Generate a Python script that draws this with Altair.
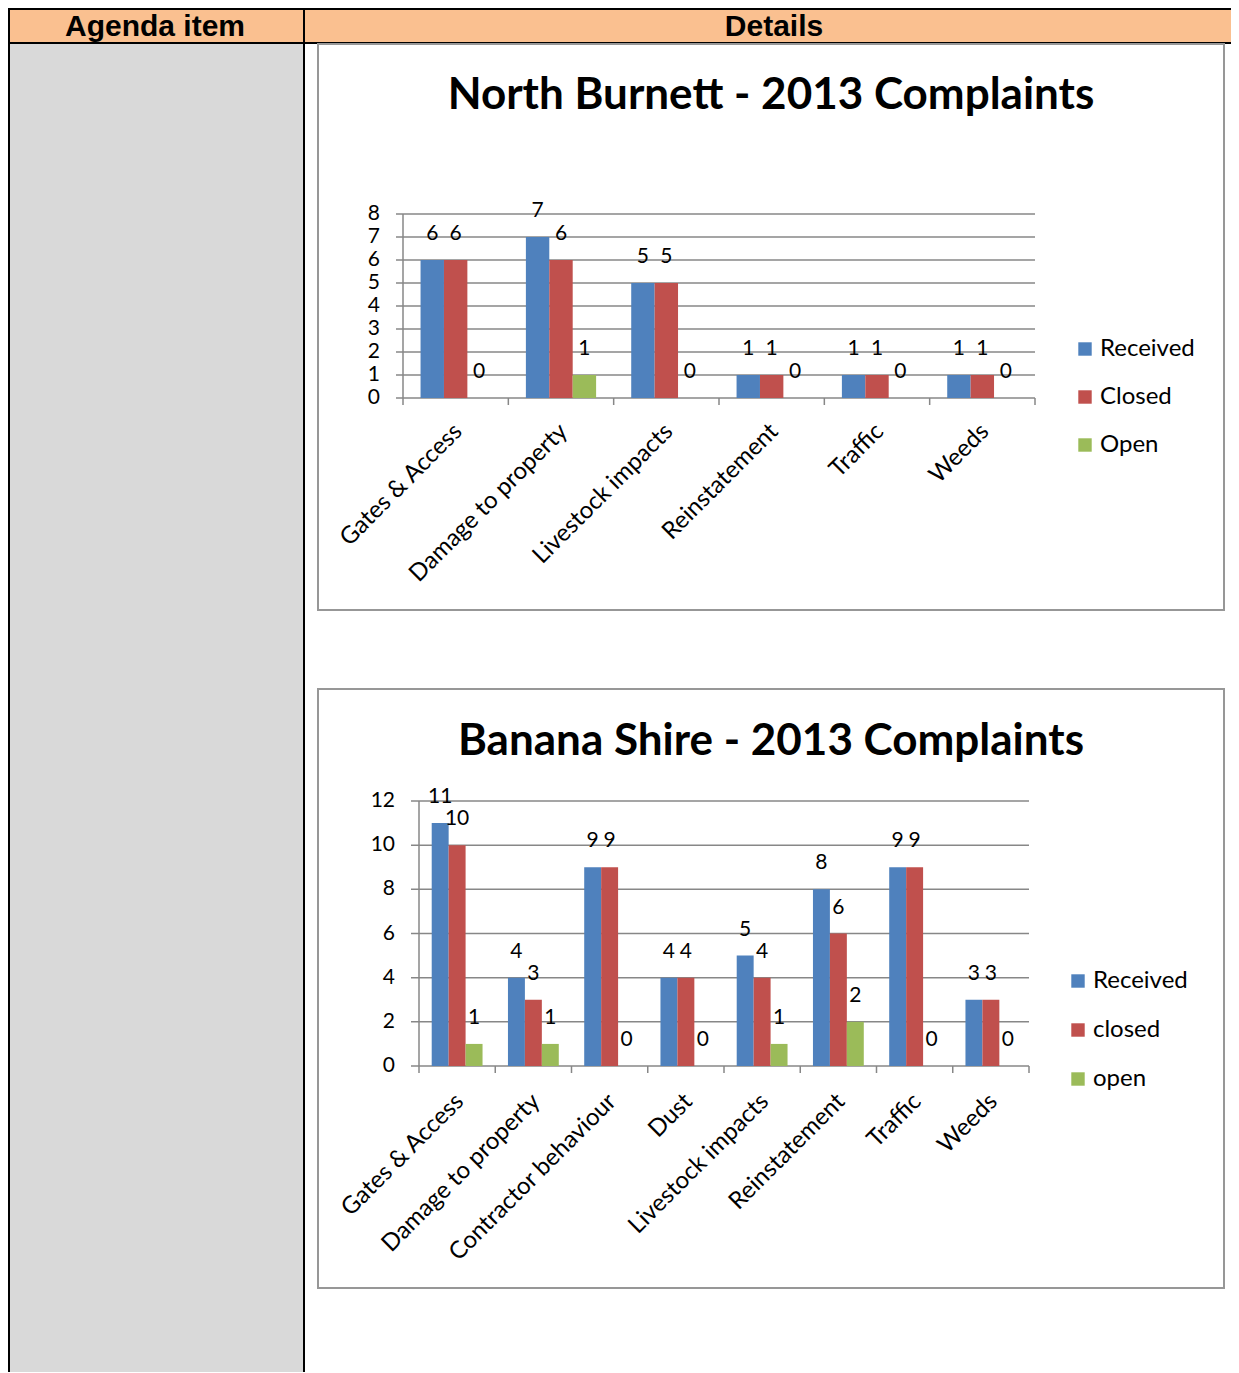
import altair as alt
import pandas as pd

# ---------------- data ----------------
HEADER_LEFT = "Agenda item"
HEADER_RIGHT = "Details"

NB_TITLE = "North Burnett - 2013 Complaints"
NB_CATS = ["Gates & Access", "Damage to property", "Livestock impacts",
           "Reinstatement", "Traffic", "Weeds"]
NB_SERIES = ["Received", "Closed", "Open"]
NB_RECEIVED = [6, 7, 5, 1, 1, 1]
NB_CLOSED = [6, 6, 5, 1, 1, 1]
NB_OPEN = [0, 1, 0, 0, 0, 0]
NB_TICKS = [0, 1, 2, 3, 4, 5, 6, 7, 8]

BS_TITLE = "Banana Shire - 2013 Complaints"
BS_CATS = ["Gates & Access", "Damage to property", "Contractor behaviour", "Dust",
           "Livestock impacts", "Reinstatement", "Traffic", "Weeds"]
BS_SERIES = ["Received", "closed", "open"]
BS_RECEIVED = [11, 4, 9, 4, 5, 8, 9, 3]
BS_CLOSED = [10, 3, 9, 4, 4, 6, 9, 3]
BS_OPEN = [1, 1, 0, 0, 1, 2, 0, 0]
BS_TICKS = [0, 2, 4, 6, 8, 10, 12]

COLORS = ["#4F81BD", "#C0504D", "#9BBB59"]
GRID = "#878787"
BOX = "#979797"
FONT = "Lato"
M = 8  # page margin


def px(v):
    return v - M


ONE = alt.Data(values=[{}])


def long_df(cats, series, vals):
    rows = []
    for s, arr in zip(series, vals):
        for c, v in zip(cats, arr):
            rows.append({"cat": c, "series": s, "value": v})
    return pd.DataFrame(rows)


def rect(x, x2, y, y2, fill, stroke=None, sw=0):
    kw = dict(fill=fill)
    if stroke:
        kw.update(stroke=stroke, strokeWidth=sw)
    else:
        kw.update(strokeWidth=0)
    return alt.Chart(ONE).mark_rect(**kw).encode(
        x=alt.value(x), x2=alt.value(x2), y=alt.value(y), y2=alt.value(y2))


def label(text, x, y, size, bold=False, font=FONT, align="center"):
    return alt.Chart(ONE).mark_text(
        text=text, font=font, fontSize=size, fontWeight="bold" if bold else "normal",
        align=align, baseline="alphabetic", color="black").encode(
        x=alt.value(x), y=alt.value(y))


def panel(title, cats, series, vals, ticks, p):
    df = long_df(cats, series, vals)
    tdf = pd.DataFrame({"t": ticks})
    cdf = pd.DataFrame({"cat": cats})
    xs = alt.Scale(domain=cats, range=[p["x0"], p["x1"]], paddingInner=0, paddingOuter=0)
    ys = alt.Scale(domain=[0, ticks[-1]], range=[p["y0"], p["y1"]], nice=False, zero=True)
    xo = alt.Scale(domain=series, paddingInner=0, paddingOuter=0.75)
    X = alt.X("cat:N", scale=xs, axis=None, sort=cats)
    XO = alt.XOffset("series:N", scale=xo, sort=series)

    grid = alt.Chart(tdf).mark_rule(color=GRID, strokeWidth=1.5).encode(
        y=alt.Y("t:Q", scale=ys, axis=None),
        x=alt.value(p["gx"]), x2=alt.value(p["x1"]))
    yaxis = alt.Chart(ONE).mark_rule(color=GRID, strokeWidth=1.5).encode(
        x=alt.value(p["x0"]), y=alt.value(p["y1"]), y2=alt.value(p["y0"]))
    cticks = alt.Chart(cdf).mark_rule(color=GRID, strokeWidth=1.5).encode(
        x=alt.X("cat:N", scale=xs, axis=None, sort=cats, bandPosition=0),
        y=alt.value(p["y0"]), y2=alt.value(p["y0"] + 7))
    lastick = alt.Chart(ONE).mark_rule(color=GRID, strokeWidth=1.5).encode(
        x=alt.value(p["x1"]), y=alt.value(p["y0"]), y2=alt.value(p["y0"] + 7))
    tlabels = alt.Chart(tdf).mark_text(
        font=FONT, fontSize=p["fs"], align="right", baseline="middle", color="black").encode(
        y=alt.Y("t:Q", scale=ys, axis=None), x=alt.value(p["tx"]), text="t:Q")
    bars = alt.Chart(df).mark_bar().encode(
        x=X, xOffset=XO,
        y=alt.Y("value:Q", scale=ys, axis=None),
        color=alt.Color("series:N", sort=series,
                        scale=alt.Scale(domain=series, range=COLORS),
                        legend=alt.Legend(
                            orient="none", legendX=p["lx"], legendY=p["ly"], title=None,
                            direction="vertical", symbolType="square", symbolSize=180,
                            symbolStrokeWidth=0, symbolOpacity=1, labelFont=FONT,
                            labelFontSize=24, labelColor="black", labelOffset=3,
                            rowPadding=p["rp"], padding=0)))
    vlabels = alt.Chart(df).mark_text(
        font=FONT, fontSize=p["fs"], baseline="alphabetic", dy=-20, color="black").encode(
        x=X, xOffset=XO, y=alt.Y("value:Q", scale=ys, axis=None), text="value:Q")
    clabels = alt.Chart(cdf).mark_text(
        font=FONT, fontSize=24, angle=315, align="right", baseline="middle",
        dx=p["cdx"], dy=p["cdx"], color="black").encode(
        x=X, y=alt.value(p["cy"]), text="cat:N")
    ttl = label(title, px(771), p["ty"], 44, bold=True)
    return alt.layer(grid, yaxis, cticks, lastick, bars, vlabels, tlabels, clabels, ttl)


W, H = 1223, 1364

bg = [
    rect(0, W, 0, H, "white"),
    rect(0, px(304), px(43), H, "#D9D9D9"),
    rect(0, W, 0, px(43), "#FAC090"),
    rect(0, 2, 0, H, "black"),
    rect(px(303), px(305), 0, H, "black"),
    rect(0, W, 0, 2, "black"),
    rect(0, W, px(42), px(44), "black"),
    rect(px(318), px(1224), px(44), px(610), "white", BOX, 2),
    rect(px(318), px(1224), px(689), px(1288), "white", BOX, 2),
    label(HEADER_LEFT, px(155), px(36), 30, bold=True, font="Liberation Sans"),
    label(HEADER_RIGHT, px(774), px(36), 30, bold=True, font="Liberation Sans"),
]

p1 = dict(x0=px(403), x1=px(1035), y0=px(398), y1=px(214), gx=px(396), tx=px(380),
          fs=21, lx=px(1073), ly=px(337), rp=24, cy=px(428), cdx=2, ty=px(109))
p2 = dict(x0=px(419), x1=px(1029), y0=px(1066), y1=px(801), gx=px(411), tx=px(395),
          fs=21, lx=px(1066), ly=px(969), rp=25, cy=px(1098), cdx=2, ty=px(755))

c1 = panel(NB_TITLE, NB_CATS, NB_SERIES, [NB_RECEIVED, NB_CLOSED, NB_OPEN], NB_TICKS, p1)
c2 = panel(BS_TITLE, BS_CATS, BS_SERIES, [BS_RECEIVED, BS_CLOSED, BS_OPEN], BS_TICKS, p2)

chart = alt.layer(*bg, c1, c2).resolve_scale(
    x="independent", y="independent", xOffset="independent", color="independent"
).properties(
    width=W, height=H, padding=0, autosize=alt.AutoSizeParams(type="none")
).configure_view(stroke=None)

chart.save("out.html", embed_options={"renderer": "svg", "actions": False})
